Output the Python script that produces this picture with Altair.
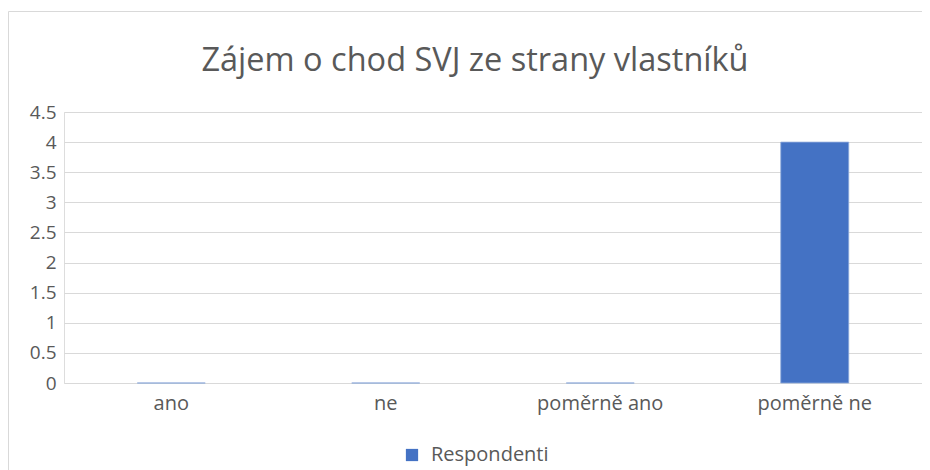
import altair as alt
import pandas as pd

categories = ["ano", "ne", "poměrně ano", "poměrně ne"]
values = [0, 0, 0, 4]
series = "Respondenti"
y_ticks = [0, 0.5, 1, 1.5, 2, 2.5, 3, 3.5, 4, 4.5]
title_text = "Zájem o chod SVJ ze strany vlastníků"

df = pd.DataFrame({"kategorie": categories, "hodnota": values, "serie": [series] * len(categories)})
frame_df = pd.DataFrame({"f": [0]})

W, H = 858, 271
FONT = "Open Sans"
GRAY = "#595959"
BORDER = "#d9d9d9"

frame_left = alt.Chart(frame_df).mark_rule(stroke=BORDER, strokeWidth=1, clip=False).encode(
    x=alt.value(-55.5), y=alt.value(-100.5), y2=alt.value(H + 200)
)
frame_top = alt.Chart(frame_df).mark_rule(stroke=BORDER, strokeWidth=1, clip=False).encode(
    x=alt.value(-55.5), x2=alt.value(W + 60), y=alt.value(-100.5)
)

bars = alt.Chart(df).mark_bar(stroke="#8eaadb", strokeWidth=0.8).encode(
    x=alt.X("kategorie:N", sort=categories,
            scale=alt.Scale(paddingInner=0.683, paddingOuter=0.3415),
            axis=alt.Axis(title=None, labelAngle=0, domain=False, ticks=False, labelPadding=10,
                          labelFontSize=20, labelColor=GRAY, labelFont=FONT)),
    y=alt.Y("hodnota:Q", scale=alt.Scale(domain=[0, 4.5], nice=False, zero=True),
            axis=alt.Axis(title=None, values=y_ticks, format="~g", domain=False, ticks=False,
                          labelPadding=8, grid=True, gridColor=BORDER, gridWidth=1,
                          labelFontSize=19, labelColor=GRAY, labelFont=FONT)),
    color=alt.Color("serie:N", scale=alt.Scale(range=["#4472c4"]),
                    legend=alt.Legend(title=None, orient="none", legendX=338, legendY=333,
                                      symbolType="square", symbolSize=150, symbolStrokeWidth=0,
                                      labelFontSize=20, labelColor=GRAY, labelFont=FONT,
                                      labelOffset=9, padding=0)),
)

chart = alt.layer(frame_left, frame_top, bars).properties(
    width=W, height=H,
    title=alt.TitleParams(title_text, fontSize=32.5, font=FONT, color=GRAY, fontWeight="normal",
                          anchor="middle", dx=-18, offset=-92, baseline="alphabetic"),
    padding={"left": 56, "top": 104, "right": 0, "bottom": 90},
    autosize=alt.AutoSizeParams(type="none"),
).configure_view(stroke=None).configure(background="white")

chart.save("out.html", embed_options={"renderer": "svg", "actions": False})
